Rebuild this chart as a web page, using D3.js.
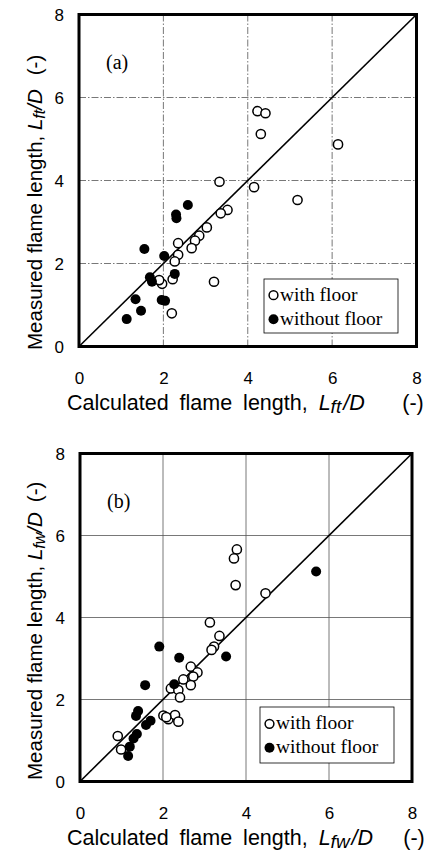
<!DOCTYPE html>
<html><head><meta charset="utf-8">
<script src="https://cdn.jsdelivr.net/npm/d3@7"></script>
<style>body{margin:0;background:#fff}svg{display:block}</style>
</head><body>
<svg id="c" width="427" height="853"></svg>
<script>
// Panel (a): Lft/D
const aWithX = [4.23,4.42,4.31,6.14,3.33,4.15,5.18,3.52,3.36,3.03,2.85,2.75,2.67,2.35,2.35,2.27,2.22,1.97,3.20,2.20,1.90];
const aWithY = [5.67,5.62,5.12,4.87,3.97,3.84,3.53,3.29,3.21,2.87,2.67,2.55,2.37,2.49,2.21,2.05,1.62,1.51,1.56,0.80,1.60];
const aWithoutX = [2.58,2.30,2.31,1.55,2.02,2.27,1.68,1.73,1.96,2.04,1.34,1.47,1.13];
const aWithoutY = [3.41,3.18,3.09,2.35,2.18,1.75,1.67,1.56,1.12,1.10,1.14,0.86,0.66];
// Panel (b): Lfw/D
const bWithX = [3.78,3.71,3.75,4.47,3.13,3.36,3.23,3.17,2.67,2.83,2.73,2.49,2.67,2.19,2.37,2.41,2.01,2.13,2.29,2.37,0.91,0.99,2.08];
const bWithY = [5.66,5.44,4.79,4.59,3.88,3.55,3.29,3.21,2.80,2.66,2.56,2.49,2.35,2.27,2.23,2.05,1.61,1.52,1.62,1.46,1.11,0.78,1.57];
const bWithoutX = [5.69,1.91,3.52,2.39,1.57,2.27,1.40,1.35,1.70,1.59,1.37,1.29,1.20,1.16];
const bWithoutY = [5.12,3.29,3.05,3.02,2.35,2.37,1.72,1.60,1.48,1.38,1.16,1.05,0.85,0.62];
const ticks = [0,2,4,6,8];
const legendLabels = ["with floor","without floor"];

const svg = d3.select("#c");
const SANS = "Liberation Sans, Arial, sans-serif";
const SERIF = "Liberation Serif, Times New Roman, serif";

function panel(opt){
  const x = d3.scaleLinear().domain([0,8]).range([opt.left, opt.right]);
  const y = d3.scaleLinear().domain([0,8]).range([opt.bottom, opt.top]);
  const g = svg.append("g");
  // grid
  g.selectAll("line.gx").data(ticks.slice(1,4)).join("line")
    .attr("x1",d=>x(d)).attr("x2",d=>x(d)).attr("y1",y(0)).attr("y2",y(8))
    .attr("stroke","#555").attr("stroke-width",0.8).attr("stroke-dasharray",opt.dash);
  g.selectAll("line.gy").data(ticks.slice(1,4)).join("line")
    .attr("y1",d=>y(d)).attr("y2",d=>y(d)).attr("x1",x(0)).attr("x2",x(8))
    .attr("stroke","#555").attr("stroke-width",0.8).attr("stroke-dasharray",opt.dash);
  // diagonal
  g.append("line").attr("x1",x(0)).attr("y1",y(0)).attr("x2",x(8)).attr("y2",y(8))
    .attr("stroke","#000").attr("stroke-width",1.6);
  // points
  const wth = opt.withX.map((v,i)=>[v,opt.withY[i]]);
  const wo = opt.woX.map((v,i)=>[v,opt.woY[i]]);
  g.selectAll("circle.o").data(wth).join("circle")
    .attr("cx",d=>x(d[0])).attr("cy",d=>y(d[1])).attr("r",4.6)
    .attr("fill","#fff").attr("stroke","#000").attr("stroke-width",1.5);
  g.selectAll("circle.f").data(wo).join("circle")
    .attr("cx",d=>x(d[0])).attr("cy",d=>y(d[1])).attr("r",5)
    .attr("fill","#000");
  // frame
  g.append("rect").attr("x",x(0)).attr("y",y(8)).attr("width",x(8)-x(0)).attr("height",y(0)-y(8))
    .attr("fill","none").attr("stroke","#000").attr("stroke-width",3);
  // axes labels
  const ax = g.append("g").attr("transform",`translate(0,${opt.bottom+25})`)
    .call(d3.axisBottom(x).tickValues(ticks).tickSize(0).tickPadding(0).tickFormat(d3.format("d")));
  ax.select(".domain").remove();
  ax.selectAll("text").attr("font-family",SANS).attr("font-size",17).attr("fill","#000");
  const ay = g.append("g").attr("transform",`translate(${opt.left-15},0)`)
    .call(d3.axisLeft(y).tickValues(ticks).tickSize(0).tickPadding(0).tickFormat(d3.format("d")));
  ay.select(".domain").remove();
  ay.selectAll("text").attr("font-family",SANS).attr("font-size",17).attr("fill","#000").attr("dy","0.35em");
  // panel label
  g.append("text").attr("x",opt.left+27).attr("y",opt.top+54).attr("font-family",SERIF)
    .attr("font-size",20).text(opt.tag);
  // legend
  const lg = g.append("g");
  lg.append("rect").attr("x",opt.lx).attr("y",opt.ly).attr("width",134).attr("height",opt.lh)
    .attr("fill","#fff").attr("stroke","#000").attr("stroke-width",0.8);
  legendLabels.forEach((lab,i)=>{
    const cy = opt.ly + opt.lh*0.3 + i*24;
    lg.append("circle").attr("cx",opt.lx+9.5).attr("cy",cy).attr("r",i===0?4.4:5)
      .attr("fill",i===0?"#fff":"#000").attr("stroke","#000").attr("stroke-width",i===0?1.5:0);
    lg.append("text").attr("x",opt.lx+16).attr("y",cy+5.5).attr("font-family",SERIF)
      .attr("font-size",19.5).text(lab);
  });
  // x title
  const xt = g.append("text").attr("x",67).attr("y",opt.bottom+63)
    .attr("font-family",SANS).attr("font-size",21.5).attr("word-spacing",5);
  xt.append("tspan").text("Calculated flame length, ");
  xt.append("tspan").attr("font-style","italic").text("L");
  xt.append("tspan").attr("font-style","italic").attr("font-size",19).attr("dy",3).text(opt.sub);
  xt.append("tspan").attr("font-style","italic").attr("dy",-3).attr("dx",2).text("/D");
  g.append("text").attr("x",opt.dashX).attr("y",opt.bottom+63).attr("text-anchor","middle")
    .attr("font-family",SANS).attr("font-size",21.5).text("(-)");
  // y title
  const yt = g.append("text").attr("transform",`translate(${opt.ytX},${opt.ytY}) rotate(-90)`)
    .attr("font-family",SANS).attr("font-size",20.5);
  yt.append("tspan").text("Measured flame length, ");
  yt.append("tspan").attr("font-style","italic").text("L");
  yt.append("tspan").attr("font-style","italic").attr("font-size",16).attr("dy",3).text(opt.sub);
  yt.append("tspan").attr("font-style","italic").attr("dy",-3).text("/D");
  yt.append("tspan").attr("dx",opt.ydx).text("(-)");
}

panel({left:79,right:416.5,top:14.5,bottom:346.5,dash:"7,2,1.5,2",
  withX:aWithX,withY:aWithY,woX:aWithoutX,woY:aWithoutY,tag:"(a)",
  lx:264,ly:279,lh:54,sub:"ft",dashX:413,ytX:42,ytY:350,ydx:14});
panel({left:80,right:412,top:453.5,bottom:781.5,dash:null,
  withX:bWithX,withY:bWithY,woX:bWithoutX,woY:bWithoutY,tag:"(b)",
  lx:260,ly:707,lh:56,sub:"fw",dashX:414,ytX:42,ytY:780,ydx:10});
</script>
</body></html>
